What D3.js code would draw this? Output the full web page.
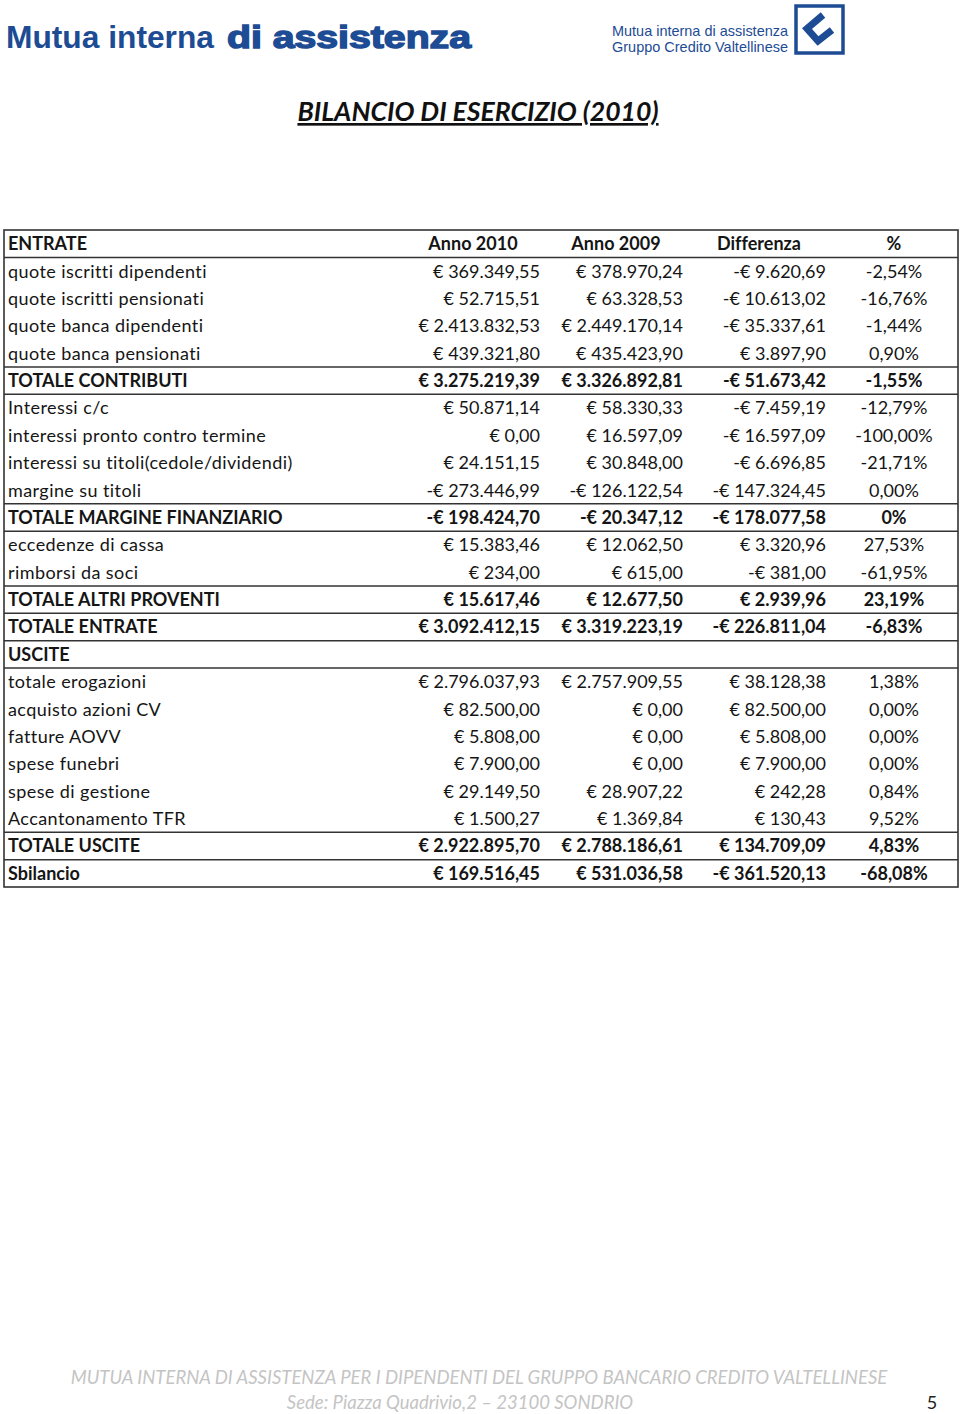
<!DOCTYPE html>
<html><head><meta charset="utf-8">
<script src="https://cdn.jsdelivr.net/npm/d3@7"></script>
<style>
html,body{margin:0;padding:0;background:#fff;}
svg{display:block;}
text{font-variant-ligatures:none;font-feature-settings:"liga" 0;}
</style></head>
<body>
<script>
// ---- data ----
const headers = ["ENTRATE", "Anno 2010", "Anno 2009", "Differenza", "%"];
const labels = [
  "quote iscritti dipendenti","quote iscritti pensionati","quote banca dipendenti","quote banca pensionati",
  "TOTALE CONTRIBUTI",
  "Interessi c/c","interessi pronto contro termine","interessi su titoli(cedole/dividendi)","margine su titoli",
  "TOTALE MARGINE FINANZIARIO",
  "eccedenze di cassa","rimborsi da soci",
  "TOTALE ALTRI PROVENTI","TOTALE ENTRATE",
  "USCITE",
  "totale erogazioni","acquisto azioni CV","fatture AOVV","spese funebri","spese di gestione","Accantonamento TFR",
  "TOTALE USCITE","Sbilancio"
];
const anno2010 = [369349.55,52715.51,2413832.53,439321.80,3275219.39,50871.14,0,24151.15,-273446.99,-198424.70,15383.46,234.00,15617.46,3092412.15,null,2796037.93,82500.00,5808.00,7900.00,29149.50,1500.27,2922895.70,169516.45];
const anno2009 = [378970.24,63328.53,2449170.14,435423.90,3326892.81,58330.33,16597.09,30848.00,-126122.54,-20347.12,12062.50,615.00,12677.50,3319223.19,null,2757909.55,0,0,0,28907.22,1369.84,2788186.61,531036.58];
const differenza = [-9620.69,-10613.02,-35337.61,3897.90,-51673.42,-7459.19,-16597.09,-6696.85,-147324.45,-178077.58,3320.96,-381.00,2939.96,-226811.04,null,38128.38,82500.00,5808.00,7900.00,242.28,130.43,134709.09,-361520.13];
const percent = ["-2,54%","-16,76%","-1,44%","0,90%","-1,55%","-12,79%","-100,00%","-21,71%","0,00%","0%","27,53%","-61,95%","23,19%","-6,83%","","1,38%","0,00%","0,00%","0,00%","0,84%","9,52%","4,83%","-68,08%"];
const boldRows = ["TOTALE CONTRIBUTI","TOTALE MARGINE FINANZIARIO","TOTALE ALTRI PROVENTI","TOTALE ENTRATE","USCITE","TOTALE USCITE","Sbilancio"];
// rules drawn below these rows (row index in full table, header = 0)
const ruleAfter = [0,4,5,9,10,12,13,14,15,21,22];

const W = 960, H = 1414;
const svg = d3.select("body").append("svg").attr("width", W).attr("height", H);

const blue = "#1d4c94";
const font = "Lato, 'Open Sans', sans-serif";

// ---- header logos ----
const logo = svg.append("text").attr("y", 48).attr("font-family","'Liberation Sans', Arial, sans-serif")
  .attr("fill", blue).attr("font-size", 31);
logo.append("tspan").attr("x", 6).attr("font-weight", "bold").text("Mutua interna")
  .attr("textLength", 208).attr("lengthAdjust","spacingAndGlyphs");
logo.append("tspan").attr("x", 227).attr("font-weight", "bold").attr("stroke", blue).attr("stroke-width", 1.4)
  .text("di assistenza").attr("textLength", 244).attr("lengthAdjust","spacingAndGlyphs");

const rl = svg.append("g").attr("font-family","'Liberation Sans', Arial, sans-serif").attr("fill", blue).attr("font-size", 15);
rl.append("text").attr("x", 612).attr("y", 36).text("Mutua interna di assistenza")
  .attr("textLength", 176).attr("lengthAdjust","spacingAndGlyphs");
rl.append("text").attr("x", 612).attr("y", 52).text("Gruppo Credito Valtellinese")
  .attr("textLength", 176).attr("lengthAdjust","spacingAndGlyphs");
svg.append("rect").attr("x", 796).attr("y", 6).attr("width", 47).attr("height", 47)
  .attr("fill","#fff").attr("stroke", blue).attr("stroke-width", 3.5);
svg.append("path").attr("d","M823,15 L807,28.5 L818,41 L832,30")
  .attr("fill","none").attr("stroke", blue).attr("stroke-width", 7).attr("stroke-linejoin","miter");

// ---- title ----
svg.append("text").attr("x", 478).attr("y", 121).attr("text-anchor","middle")
  .attr("font-family", font).attr("font-weight","bold").attr("font-style","italic")
  .attr("font-size", 26.6).attr("fill","#111").attr("text-decoration","underline")
  .text("BILANCIO DI ESERCIZIO (2010)");

// ---- table ----
const tableTop = 230, tableBottom = 887, left = 4, right = 958;
const rowsAll = [null].concat(labels.map((d,i)=>i));
const y = d3.scaleBand().domain(d3.range(rowsAll.length)).range([tableTop, tableBottom]);
const colRight = d3.scaleOrdinal().domain([1,2,3]).range([540, 683, 826]);
const colCenter = d3.scaleOrdinal().domain([1,2,3,4]).range([473, 616, 759, 894]);

const it = d3.formatLocale({decimal:",", thousands:".", grouping:[3], currency:["€ ",""], minus:"-"});
const fmt = it.format("$,.2f");

const tbl = svg.append("g").attr("font-family", font).attr("font-size", 18).attr("fill","#151515");

// header row
tbl.append("text").attr("x", 8).attr("y", y(0) + y.bandwidth()/2).attr("dy","0.36em")
  .attr("font-weight","bold").text(headers[0]);
tbl.selectAll("text.h").data([1,2,3,4]).join("text").attr("class","h")
  .attr("x", d=>colCenter(d)).attr("y", y(0) + y.bandwidth()/2).attr("dy","0.36em")
  .attr("text-anchor","middle").attr("font-weight","bold").text(d=>headers[d]);

const rows = tbl.selectAll("g.row").data(labels).join("g").attr("class","row")
  .attr("transform",(d,i)=>`translate(0,${y(i+1) + y.bandwidth()/2})`)
  .attr("font-weight", d=> boldRows.includes(d) ? "bold" : "normal");
rows.append("text").attr("x", 8).attr("dy","0.36em")
  .attr("letter-spacing", d=> boldRows.includes(d) ? 0 : 0.42).text(d=>d);
const series = [anno2010, anno2009, differenza];
series.forEach((s, k) => {
  rows.append("text").attr("x", colRight(k+1)).attr("dy","0.36em").attr("text-anchor","end")
    .text((d,i)=> s[i]==null ? "" : fmt(s[i]));
});
rows.append("text").attr("x", colCenter(4)).attr("dy","0.36em").attr("text-anchor","middle")
  .text((d,i)=>percent[i]);

// rules
svg.append("g").selectAll("line").data(ruleAfter).join("line")
  .attr("x1", left).attr("x2", right)
  .attr("y1", d=> y(d) + y.bandwidth()).attr("y2", d=> y(d) + y.bandwidth())
  .attr("stroke","#333").attr("stroke-width",1.5);
svg.append("rect").attr("x", left).attr("y", tableTop).attr("width", right-left).attr("height", tableBottom-tableTop)
  .attr("fill","none").attr("stroke","#333").attr("stroke-width",1.6);

// ---- footer ----
const ft = svg.append("g").attr("font-family", font).attr("font-style","italic").attr("font-size", 18.5).attr("fill","#c4c4c4");
ft.append("text").attr("x", 479).attr("y", 1384).attr("text-anchor","middle")
  .text("MUTUA INTERNA DI ASSISTENZA PER I DIPENDENTI DEL GRUPPO BANCARIO CREDITO VALTELLINESE");
ft.append("text").attr("x", 460).attr("y", 1409).attr("text-anchor","middle")
  .text("Sede: Piazza Quadrivio,2 – 23100 SONDRIO");
svg.append("text").attr("x", 932).attr("y", 1409).attr("text-anchor","middle")
  .attr("font-family", font).attr("font-size", 18).attr("fill","#222").text("5");
</script>
</body></html>
